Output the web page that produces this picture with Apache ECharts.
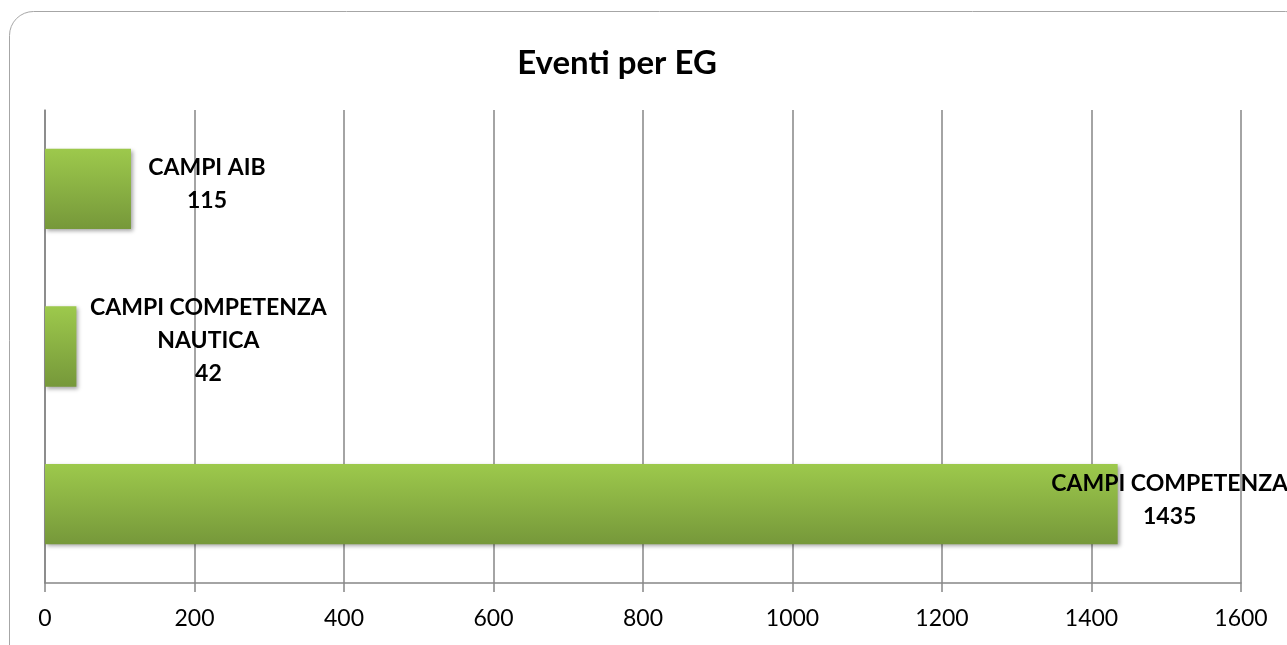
<!DOCTYPE html>
<html>
<head>
<meta charset="utf-8">
<title>Eventi per EG</title>
<script src="https://cdn.jsdelivr.net/npm/echarts@6/dist/echarts.min.js"></script>
<style>
  html, body { margin: 0; padding: 0; background: #fff; }
  #chart { width: 1287px; height: 645px; }
</style>
</head>
<body>
<div id="chart"></div>
<script>
// dati
const categories = ['CAMPI AIB', 'CAMPI COMPETENZA NAUTICA', 'CAMPI COMPETENZA']
const eventi = [115, 42, 1435]
const xTicks = [0, 200, 400, 600, 800, 1000, 1200, 1400, 1600]

// spostamento delle etichette (px), una per barra
const labelOffsets = [[76, -5], [132, -6], [52, -4]]

const chart = echarts.init(document.getElementById('chart'))

const barColor = new echarts.graphic.LinearGradient(0, 0, 0, 1, [
  { offset: 0, color: '#9dc94c' },
  { offset: 1, color: '#76983a' }
])

chart.setOption({
  animation: false,
  textStyle: { fontFamily: 'Lato, "Open Sans", sans-serif' },
  title: {
    text: 'Eventi per EG',
    left: 612,
    top: 42,
    textAlign: 'center',
    textStyle: { fontSize: 33, fontWeight: 'bold', color: '#000', fontFamily: 'Lato, sans-serif' }
  },
  graphic: [{
    type: 'rect',
    z: -1,
    shape: { x: 9.5, y: 11.5, width: 1300, height: 660, r: 24 },
    style: { fill: '#fff', stroke: '#a6a6a6', lineWidth: 1 }
  }],
  grid: { left: 45, right: 46, top: 110, bottom: 62 },
  xAxis: {
    type: 'value',
    min: xTicks[0],
    max: xTicks[xTicks.length - 1],
    interval: xTicks[1] - xTicks[0],
    axisLine: { show: true, lineStyle: { color: '#868686', width: 1.5 } },
    axisTick: { show: true, length: 9, lineStyle: { color: '#868686', width: 1.5 } },
    splitLine: { show: true, lineStyle: { color: '#868686', width: 1.5 } },
    axisLabel: { color: '#000', fontSize: 23, margin: 24, formatter: v => String(v) }
  },
  yAxis: {
    type: 'category',
    inverse: true,
    data: categories,
    axisLine: { show: true, lineStyle: { color: '#868686', width: 1.5 } },
    axisTick: { show: false },
    axisLabel: { show: false }
  },
  series: [{
    type: 'bar',
    barWidth: '51%',
    data: eventi.map((v, i) => ({
      value: v,
      label: { offset: labelOffsets[i] }
    })),
    itemStyle: {
      color: barColor,
      shadowColor: 'rgba(0,0,0,0.35)',
      shadowBlur: 4,
      shadowOffsetX: 2,
      shadowOffsetY: 2
    },
    label: {
      show: true,
      position: 'right',
      distance: 0,
      align: 'center',
      color: '#000',
      fontSize: 23,
      fontWeight: 'bold',
      lineHeight: 33,
      formatter: function (p) {
        let name = p.name
        if (name.length > 20) {
          const k = name.lastIndexOf(' ')
          name = name.slice(0, k) + '\n' + name.slice(k + 1)
        }
        return name + '\n' + p.value
      }
    }
  }]
})
</script>
</body>
</html>
